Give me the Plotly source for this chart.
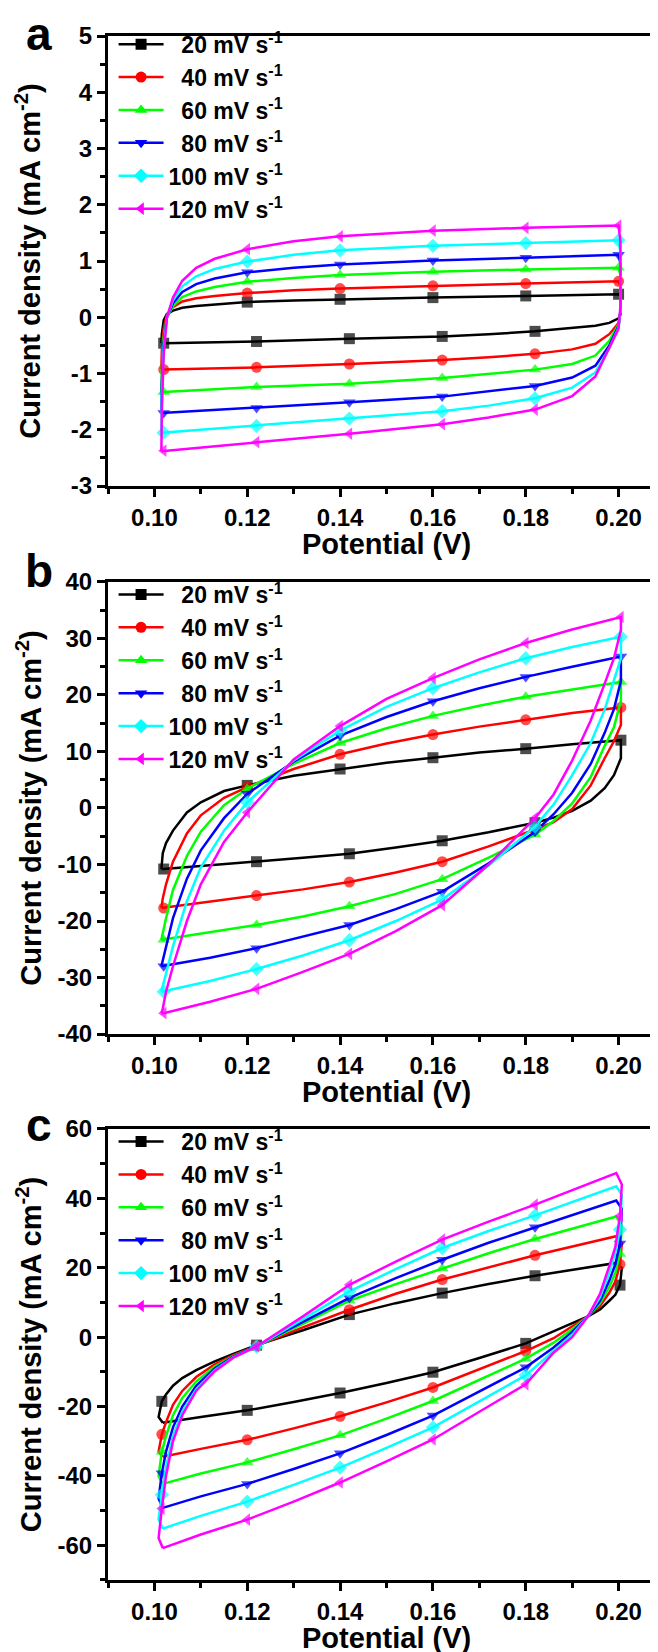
import plotly.graph_objects as go

FONT = "Liberation Sans"

# scan rates, one series per rate (same order in every panel)
rate_labels = ["\u00a0\u00a020 mV s<sup>-1</sup>", "\u00a0\u00a040 mV s<sup>-1</sup>",
               "\u00a0\u00a060 mV s<sup>-1</sup>", "\u00a0\u00a080 mV s<sup>-1</sup>",
               "100 mV s<sup>-1</sup>", "120 mV s<sup>-1</sup>"]
colors = ["#000000", "#ff0000", "#00ff00", "#0000ff", "#00ffff", "#ff00ff"]
symbols = ["square", "circle", "triangle-up", "triangle-down", "diamond", "triangle-left"]

# ---- panel a : potential (V) along the CV loop, current (mA cm-2) per rate
a_pot = [0.1015, 0.1016, 0.1020, 0.1027, 0.1040, 0.1060, 0.1090, 0.1130, 0.1200, 0.1300,
         0.1400, 0.1600, 0.1800, 0.2000, 0.2004, 0.2004, 0.2000, 0.1980, 0.1950, 0.1900,
         0.1820, 0.1720, 0.1620, 0.1420, 0.1220, 0.1020, 0.1015]
a_cur = [
    [-0.46, -0.30, -0.05, 0.06, 0.12, 0.17, 0.20, 0.23, 0.27, 0.30, 0.32, 0.35, 0.38, 0.41,
     0.38, 0.05, -0.02, -0.10, -0.15, -0.19, -0.25, -0.30, -0.34, -0.38, -0.43, -0.46, -0.46],
    [-0.93, -0.60, -0.20, 0.05, 0.18, 0.28, 0.34, 0.38, 0.43, 0.48, 0.51, 0.56, 0.60, 0.64,
     0.55, 0.10, -0.10, -0.30, -0.47, -0.57, -0.65, -0.71, -0.76, -0.83, -0.89, -0.93, -0.93],
    [-1.33, -0.90, -0.35, 0.00, 0.20, 0.36, 0.46, 0.54, 0.63, 0.70, 0.75, 0.81, 0.85, 0.88,
     0.75, 0.10, -0.12, -0.42, -0.68, -0.83, -0.93, -1.01, -1.08, -1.18, -1.24, -1.33, -1.33],
    [-1.70, -1.15, -0.45, 0.00, 0.25, 0.45, 0.59, 0.69, 0.80, 0.88, 0.94, 1.01, 1.06, 1.11,
     0.95, 0.10, -0.15, -0.50, -0.86, -1.07, -1.22, -1.32, -1.41, -1.51, -1.61, -1.70, -1.70],
    [-2.05, -1.40, -0.55, 0.00, 0.30, 0.55, 0.73, 0.86, 0.99, 1.11, 1.19, 1.27, 1.32, 1.37,
     1.15, 0.10, -0.18, -0.55, -0.98, -1.25, -1.44, -1.57, -1.67, -1.80, -1.93, -2.05, -2.05],
    [-2.38, -1.65, -0.65, 0.00, 0.35, 0.65, 0.88, 1.04, 1.21, 1.35, 1.44, 1.54, 1.59, 1.63,
     1.35, 0.20, -0.20, -0.55, -1.05, -1.40, -1.64, -1.78, -1.90, -2.07, -2.22, -2.37, -2.38],
]
a_marks = [8, 10, 11, 12, 13, 20, 22, 23, 24, 25]

# ---- panel b
b_pot = [0.1015, 0.1018, 0.1025, 0.1040, 0.1070, 0.1100, 0.1150, 0.1200, 0.1300, 0.1400,
         0.1500, 0.1600, 0.1700, 0.1800, 0.1900, 0.2005, 0.2005, 0.1990, 0.1970, 0.1940,
         0.1900, 0.1860, 0.1820, 0.1720, 0.1620, 0.1520, 0.1420, 0.1320, 0.1220, 0.1120,
         0.1020, 0.1015]
b_cur = [
    [-10.8, -8.0, -6.2, -4.0, -0.8, 1.0, 3.0, 4.0, 5.7, 6.9, 8.0, 8.9, 9.8, 10.5, 11.3, 12.0,
     8.8, 5.8, 3.5, 1.3, -0.5, -1.7, -2.6, -4.3, -5.8, -7.0, -8.1, -8.8, -9.5, -10.1, -10.8, -10.8],
    [-17.7, -16.0, -13.5, -9.5, -4.5, -1.3, 1.8, 3.7, 6.9, 9.5, 11.4, 13.0, 14.4, 15.6, 16.8, 17.8,
     14.7, 11.8, 8.8, 4.0, -0.2, -2.5, -3.8, -6.8, -9.5, -11.4, -13.1, -14.4, -15.5, -16.6, -17.7, -17.7],
    [-23.3, -22.0, -19.5, -14.5, -8.5, -4.2, 0.5, 3.4, 7.8, 11.5, 14.1, 16.3, 18.1, 19.7, 21.0, 22.3,
     19.0, 14.3, 11.0, 5.5, 0.8, -2.3, -4.7, -8.8, -12.6, -15.2, -17.4, -19.2, -20.7, -22.0, -23.3, -23.3],
    [-28.0, -27.0, -24.5, -19.5, -12.5, -7.5, -1.8, 2.5, 8.2, 12.8, 16.1, 18.9, 21.2, 23.2, 25.0, 26.8,
     22.5, 17.5, 13.3, 7.8, 2.7, -1.1, -4.2, -9.8, -14.8, -17.9, -20.7, -22.8, -24.8, -26.5, -28.0, -28.0],
    [-32.5, -31.5, -29.5, -24.5, -16.5, -10.5, -4.0, 1.0, 8.4, 13.7, 17.9, 21.2, 24.0, 26.5, 28.5, 30.3,
     26.5, 22.5, 17.4, 11.5, 5.8, 0.6, -3.3, -10.2, -16.2, -20.0, -23.4, -26.1, -28.5, -30.6, -32.5, -32.5],
    [-36.3, -35.5, -32.5, -28.0, -20.0, -13.5, -6.0, -0.8, 8.6, 14.5, 19.3, 23.0, 26.3, 29.2, 31.6, 33.8,
     31.5, 26.5, 22.0, 15.5, 8.4, 2.4, -1.8, -10.0, -17.2, -21.8, -25.8, -29.0, -32.0, -34.3, -36.3, -36.3],
]
b_marks = [7, 9, 11, 13, 15, 22, 24, 26, 28, 30]

# ---- panel c
c_pot = [0.1018, 0.1009, 0.1016, 0.1025, 0.1040, 0.1060, 0.1090, 0.1130, 0.1170, 0.1220,
         0.1320, 0.1420, 0.1520, 0.1620, 0.1720, 0.1820, 0.1995, 0.2007, 0.2003, 0.1993,
         0.1980, 0.1960, 0.1934, 0.1900, 0.1860, 0.1800, 0.1700, 0.1600, 0.1500, 0.1400,
         0.1300, 0.1200, 0.1100, 0.1018]
c_cur = [
    [-24.7, -23.0, -18.5, -16.5, -14.0, -11.8, -9.5, -7.0, -4.8, -2.3, 2.0, 6.5, 9.8, 12.7, 15.3, 17.7,
     21.4, 20.0, 15.0, 12.2, 10.5, 8.0, 6.0, 4.0, 1.5, -1.8, -6.0, -10.1, -13.2, -16.1, -18.7, -21.1, -23.0, -24.7],
    [-34.5, -33.0, -28.0, -24.5, -19.5, -15.5, -11.5, -7.8, -5.2, -2.5, 2.8, 7.9, 12.5, 16.6, 20.2, 23.6,
     29.1, 27.0, 21.0, 16.0, 12.8, 9.0, 6.0, 3.0, -0.3, -4.0, -9.3, -14.5, -18.8, -22.8, -26.3, -29.6, -32.2, -34.5],
    [-42.3, -40.0, -33.0, -28.5, -22.5, -17.5, -12.8, -8.5, -5.5, -2.6, 3.8, 10.5, 15.3, 19.8, 24.2, 28.3,
     34.8, 32.0, 24.0, 18.5, 14.5, 9.8, 6.0, 2.3, -1.6, -6.2, -12.3, -18.4, -23.5, -28.3, -32.3, -36.1, -39.3, -42.3],
    [-49.2, -46.5, -39.2, -33.0, -26.0, -20.0, -14.0, -9.0, -5.6, -2.6, 4.4, 11.3, 17.0, 22.3, 27.2, 31.7,
     39.4, 37.0, 27.0, 21.0, 16.3, 10.5, 6.0, 1.5, -3.0, -8.7, -15.6, -22.6, -28.2, -33.5, -38.0, -42.3, -45.9, -49.2],
    [-55.2, -52.5, -45.4, -37.5, -28.5, -21.5, -15.0, -9.5, -5.8, -2.7, 5.2, 13.2, 19.6, 25.7, 30.6, 35.1,
     43.5, 41.0, 31.0, 24.5, 18.5, 11.5, 6.0, 0.7, -4.0, -11.0, -18.5, -26.0, -31.9, -37.6, -42.6, -47.4, -51.5, -55.2],
    [-60.8, -57.9, -49.4, -40.0, -30.0, -22.5, -15.5, -9.8, -5.9, -2.7, 6.0, 15.1, 21.8, 28.1, 33.3, 38.2,
     47.3, 44.0, 35.0, 26.0, 20.5, 12.5, 6.0, 0.0, -4.5, -13.6, -21.5, -29.5, -35.8, -41.9, -47.4, -52.6, -56.9, -60.8],
]
c_marks = [2, 9, 11, 13, 15, 18, 25, 27, 29, 31]

# tick labels
x_ticks = [0.10, 0.12, 0.14, 0.16, 0.18, 0.20]
a_yticks = [-3, -2, -1, 0, 1, 2, 3, 4, 5]
b_yticks = [-40, -30, -20, -10, 0, 10, 20, 30, 40]
c_yticks = [-60, -40, -20, 0, 20, 40, 60]

fig = go.Figure()

panels = [
    (a_pot, a_cur, a_marks, "x", "y", "legend"),
    (b_pot, b_cur, b_marks, "x2", "y2", "legend2"),
    (c_pot, c_cur, c_marks, "x3", "y3", "legend3"),
]
for pot, cur, marks, xa, ya, lg in panels:
    for k in range(len(rate_labels)):
        sizes = [11 if j in marks else 0 for j in range(len(pot))]
        fig.add_trace(go.Scatter(
            x=pot, y=cur[k], mode="lines+markers", showlegend=False,
            line=dict(color=colors[k], width=2.5),
            marker=dict(symbol=symbols[k], size=sizes, color=colors[k], line=dict(width=0)),
            xaxis=xa, yaxis=ya))
        # legend entry (line + symbol), no data of its own
        fig.add_trace(go.Scatter(
            x=[None], y=[None], mode="lines+markers", name=rate_labels[k],
            line=dict(color=colors[k], width=2.5),
            marker=dict(symbol=symbols[k], size=11, color=colors[k], line=dict(width=0)),
            xaxis=xa, yaxis=ya, legend=lg))

bold = dict(family=FONT, color="black", weight="bold")

def xstyle(anchor):
    return dict(anchor=anchor, range=[0.09, 0.21], tickvals=x_ticks, tickformat=".2f",
                showline=True, linecolor="black", linewidth=3, mirror=True,
                ticks="outside", ticklen=8, tickwidth=2.5, tickcolor="black",
                minor=dict(dtick=0.01, tick0=0.09, ticklen=5, tickwidth=2.5, tickcolor="black"),
                showgrid=False, zeroline=False, tickfont=dict(size=24, **bold))

def ystyle(anchor, dom, ticks, rng, minor_step, standoff):
    return dict(anchor=anchor, domain=dom, range=rng, tickvals=ticks,
                ticktext=[str(t) for t in ticks],
                showline=True, linecolor="black", linewidth=3,
                ticks="outside", ticklen=8, tickwidth=2.5, tickcolor="black",
                minor=dict(dtick=minor_step, tick0=0, ticklen=5, tickwidth=2.5, tickcolor="black"),
                showgrid=False, zeroline=False, tickfont=dict(size=24, **bold),
                title=dict(text="Current density (mA cm<sup>-2</sup>)", font=dict(size=29, **bold),
                           standoff=standoff))

legend_style = dict(xanchor="left", yanchor="top", x=0.01, bgcolor="rgba(0,0,0,0)",
                    font=dict(size=23, **bold), itemwidth=45, tracegroupgap=0)

fig.update_layout(
    width=658, height=1652,
    margin=dict(l=100, r=1, t=28, b=80),
    paper_bgcolor="white", plot_bgcolor="white",
    xaxis=xstyle("y"), xaxis2=xstyle("y2"), xaxis3=xstyle("y3"),
    yaxis=ystyle("x", [0.7085, 1.0], a_yticks, [-3, 5], 0.5, 22),
    yaxis2=ystyle("x2", [0.3536, 0.6464], b_yticks, [-40, 40], 5, 8),
    yaxis3=ystyle("x3", [0.0, 0.2921], c_yticks, [-70, 60], 10, 8),
    legend=dict(y=1.0086, **legend_style),
    legend2=dict(y=0.6522, **legend_style),
    legend3=dict(y=0.2979, **legend_style),
)

# thin right-hand frame edge of each panel
for xr, yr in [("x", "y"), ("x2", "y2"), ("x3", "y3")]:
    fig.add_shape(type="line", xref=xr + " domain", yref=yr + " domain", x0=1, x1=1, y0=0, y1=1,
                  line=dict(color="#b0b0b0", width=1))

# x-axis titles under each panel
for yc in [0.671, 0.3161, -0.0376]:
    fig.add_annotation(text="Potential (V)", xref="paper", yref="paper", x=0.5, y=yc,
                       xanchor="center", yanchor="middle", showarrow=False,
                       font=dict(size=29, **bold))

# panel letters
for letter, yb in [("a", 0.9832), ("b", 0.6353), ("c", 0.2766)]:
    fig.add_annotation(text=letter, xref="paper", yref="paper", x=-0.124, y=yb,
                       xanchor="center", yanchor="bottom", showarrow=False,
                       font=dict(size=46, **bold))

fig.write_html("out.html")
